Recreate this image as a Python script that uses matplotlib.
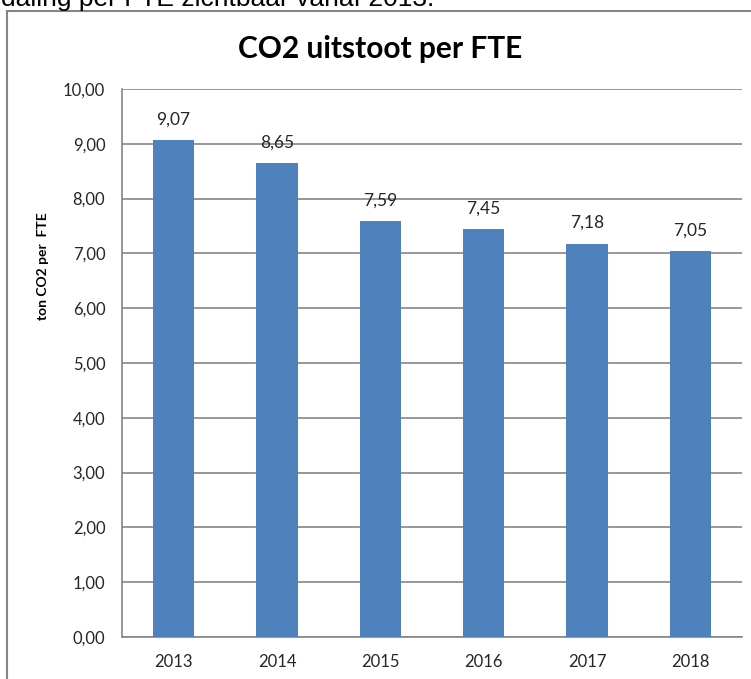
import matplotlib
matplotlib.use("Agg")
import matplotlib.pyplot as plt
from matplotlib.patches import Rectangle

years = ["2013", "2014", "2015", "2016", "2017", "2018"]
values = [9.07, 8.65, 7.59, 7.45, 7.18, 7.05]
yticks = [0, 1, 2, 3, 4, 5, 6, 7, 8, 9, 10]

W, H = 751, 679
fig = plt.figure(figsize=(W / 100, H / 100), dpi=100)
plt.rcParams['font.family'] = ['Lato', 'DejaVu Sans']

def fx(px):
    return px / W

def fy(py):
    return 1 - py / H

# plot area: left 122, right 742, top 89, bottom 637
ax = fig.add_axes([fx(122), fy(637), fx(742 - 122), (637 - 89) / H])
grid_c = "#868686"
bar_c = "#4F81BD"
txt_c = "#262626"

x = list(range(len(years)))
ax.bar(x, values, width=0.4, color=bar_c, zorder=3)
ax.set_xlim(-0.5, len(years) - 0.5)
ax.set_ylim(0, 10)
ax.set_yticks(yticks)
ax.set_yticklabels([f"{v:.2f}".replace(".", ",") for v in yticks], fontsize=12, color=txt_c)
ax.set_xticks(x)
ax.set_xticklabels(years, fontsize=12, color=txt_c)
ax.tick_params(axis="both", length=0)
ax.tick_params(axis="y", pad=12)
ax.tick_params(axis="x", pad=12)
ax.yaxis.grid(True, color=grid_c, linewidth=1.2, zorder=0)
ax.set_axisbelow(True)
for s in ["top", "right"]:
    ax.spines[s].set_visible(False)
for s in ["left", "bottom"]:
    ax.spines[s].set_color(grid_c)
    ax.spines[s].set_linewidth(1.2)

for xi, v in zip(x, values):
    ax.annotate(f"{v:.2f}".replace(".", ","), (xi, v), xytext=(0, 9),
                textcoords="offset points", ha="center", va="bottom",
                fontsize=12.5, color=txt_c)

fig.text(fx(43), fy(266), "ton CO2 per  FTE", fontsize=10, fontweight="bold",
         rotation=90, ha="center", va="center", color="black")

fig.text(fx(380), fy(49), "CO2 uitstoot per FTE", fontsize=21.5, fontweight="bold",
         ha="center", va="center", color="black")

# outer chart border
fig.patches.append(Rectangle((fx(7), fy(H + 20)), fx(W + 20), (H + 20 - 11) / H,
                             transform=fig.transFigure, fill=False,
                             edgecolor=grid_c, linewidth=1.5, clip_on=False))

# partial sentence above the chart (cut off at top, as in the source)
fig.text(fx(1), fy(6), "daling per FTE zichtbaar vanaf 2013.", fontsize=19,
         family=["Liberation Sans", "DejaVu Sans"], ha="left", va="baseline", color="black")

fig.savefig("out.png", dpi=100)
